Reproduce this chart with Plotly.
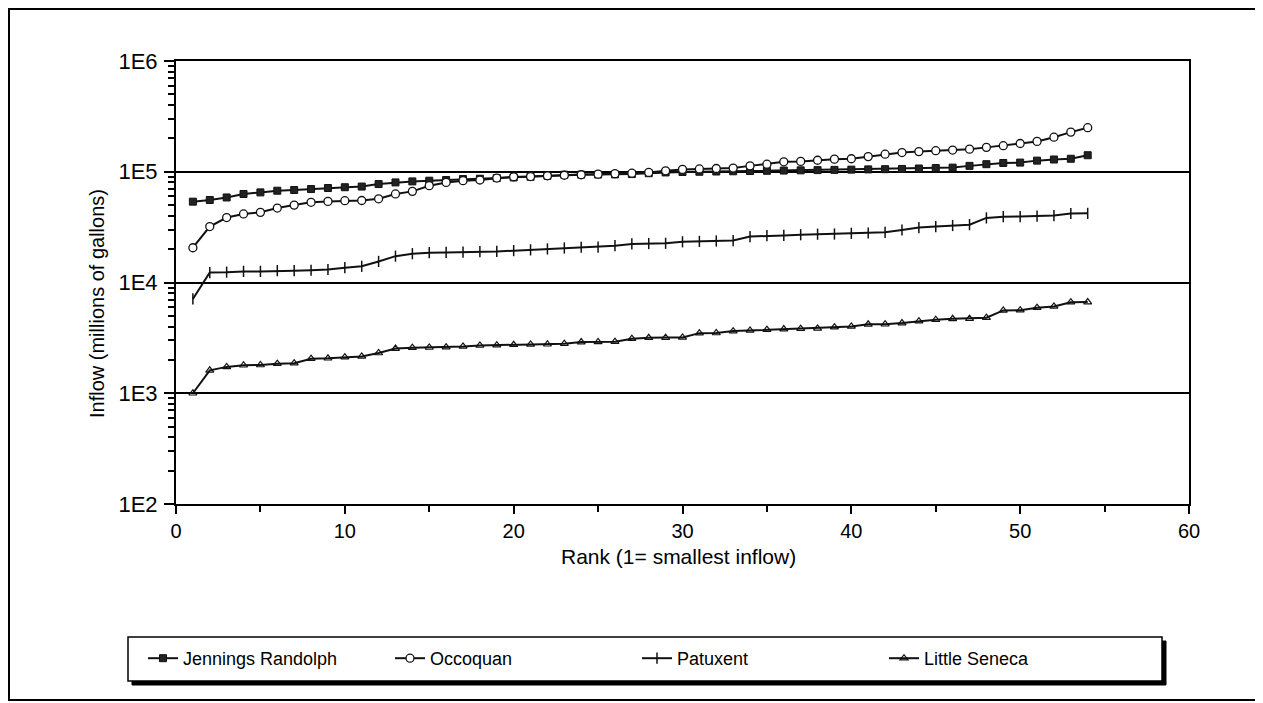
import plotly.graph_objects as go

rank = list(range(1, 55))

jennings_randolph = [53700, 55600, 58600, 63000, 65100, 67400, 68400, 69800, 71300, 72500,
                     73500, 77400, 80100, 81800, 83000, 84200, 85900, 86500, 87700, 88900,
                     90100, 92000, 94000, 94200, 94400, 94600, 95300, 97000, 98600, 99500,
                     100000, 100500, 101000, 101500, 102000, 102500, 103000, 103500, 104000, 104500,
                     105000, 105500, 106000, 107000, 108000, 109000, 113000, 117000, 120000, 121000,
                     126000, 129000, 131000, 141000]

occoquan = [20600, 32000, 38600, 41600, 43000, 47000, 50000, 53000, 54000, 54800,
            55000, 57000, 63000, 66500, 74800, 80100, 83000, 84200, 87700, 90100,
            90500, 92000, 93000, 94000, 95000, 96000, 97000, 98600, 102000, 105000,
            106000, 107000, 108000, 113000, 117000, 123000, 124000, 127000, 130000, 131000,
            137000, 144000, 149000, 152000, 155000, 157000, 160000, 166000, 172000, 180000,
            188000, 205000, 228000, 250000]

patuxent = [7100, 12300, 12400, 12600, 12600, 12800, 12800, 12900, 13100, 13600,
            14000, 15500, 17300, 18200, 18600, 18700, 18800, 19000, 19100, 19400,
            19700, 20100, 20500, 20800, 20900, 21500, 22300, 22500, 22600, 23300,
            23500, 23700, 23900, 26000, 26500, 26600, 27000, 27300, 27400, 27800,
            28000, 28400, 29800, 31300, 32000, 32700, 33300, 38300, 39300, 39400,
            39700, 40200, 42000, 42100]

little_seneca = [1000, 1610, 1730, 1790, 1800, 1850, 1870, 2050, 2070, 2120,
                 2150, 2310, 2530, 2580, 2590, 2610, 2650, 2700, 2720, 2740,
                 2760, 2770, 2800, 2900, 2910, 2920, 3110, 3170, 3180, 3190,
                 3490, 3500, 3640, 3690, 3750, 3800, 3830, 3850, 3950, 4010,
                 4190, 4200, 4300, 4480, 4610, 4700, 4720, 4810, 5600, 5620,
                 5920, 6080, 6640, 6660]

y_major = [1e2, 1e3, 1e4, 1e5, 1e6]
y_major_text = ["1E2", "1E3", "1E4", "1E5", "1E6"]
y_minor = [m * 10 ** e for e in range(2, 6) for m in range(2, 10)]

FONT = "Liberation Sans, Arial, sans-serif"

fig = go.Figure()
fig.add_trace(go.Scatter(x=rank, y=jennings_randolph, name="Jennings Randolph", mode="lines+markers",
                         line=dict(color="#111", width=2),
                         marker=dict(symbol="square", size=7, color="#222", line=dict(color="#111", width=1))))
fig.add_trace(go.Scatter(x=rank, y=occoquan, name="Occoquan", mode="lines+markers",
                         line=dict(color="#111", width=2),
                         marker=dict(symbol="circle", size=8, color="white", line=dict(color="#111", width=1.3))))
fig.add_trace(go.Scatter(x=rank, y=patuxent, name="Patuxent", mode="lines+markers",
                         line=dict(color="#111", width=2),
                         marker=dict(symbol="line-ns-open", size=8, color="#111", line=dict(color="#111", width=1.5))))
fig.add_trace(go.Scatter(x=rank, y=little_seneca, name="Little Seneca", mode="lines+markers",
                         line=dict(color="#111", width=2),
                         marker=dict(symbol="triangle-up-open", size=7, color="#111", line=dict(color="#111", width=1.2))))

# page body has an 8px margin: figure is placed at (8, 8)
OFF = 8
W, H = 1263 - OFF, 703 - OFF
PL, PR, PT, PB = 176, 1189, 61, 504   # plot area in page pixels
L, R, T, B = PL - OFF, W - (PR - OFF), PT - OFF, H - (PB - OFF)
pw, ph = PR - PL, PB - PT

def px(x):
    return (x - PL) / pw

def py(y):
    return (PB - y) / ph

fig.update_layout(
    width=W, height=H,
    margin=dict(l=L, r=R, t=T, b=B),
    paper_bgcolor="white", plot_bgcolor="white",
    font=dict(family=FONT, size=20, color="black"),
    showlegend=True,
    legend=dict(orientation="h", x=px(143), xanchor="left", y=py(640), yanchor="top",
                font=dict(size=18, family=FONT, color="black"),
                bgcolor="rgba(0,0,0,0)", borderwidth=0, entrywidth=202, itemwidth=30),
    xaxis=dict(range=[0, 60], tickvals=[0, 10, 20, 30, 40, 50, 60], ticks="outside", ticklen=8,
               tickwidth=1.5, tickcolor="black", showline=True, linecolor="black", linewidth=2,
               mirror=True, showgrid=False, zeroline=False, ticklabelstandoff=0,
               minor=dict(tickvals=[5, 15, 25, 35, 45, 55], ticks="outside", ticklen=6,
                          tickwidth=1.5, tickcolor="black", showgrid=False),
               tickfont=dict(size=20)),
    xaxis2=dict(range=[0, 60], overlaying="x", anchor="y", side="bottom",
                tickvals=[0, 5, 10, 15, 20, 25, 30, 35, 40, 45, 50, 55, 60], ticks="inside", ticklen=6,
                tickwidth=1.5, tickcolor="black", showticklabels=False, showgrid=False,
                showline=False, zeroline=False),
    yaxis=dict(type="log", range=[2, 6], tickvals=y_major, ticktext=y_major_text, ticks="outside",
               ticklen=10, tickwidth=1.5, tickcolor="black", showline=True, linecolor="black",
               linewidth=2, mirror=True, showgrid=True, gridcolor="black", gridwidth=2,
               zeroline=False, ticklabelstandoff=2,
               minor=dict(tickvals=y_minor, ticks="outside", ticklen=6, tickwidth=1.5,
                          tickcolor="black", showgrid=False),
               tickfont=dict(size=22)),
    yaxis2=dict(type="log", range=[2, 6], overlaying="y", anchor="x", side="left",
                tickvals=y_minor, ticks="inside", ticklen=6, tickwidth=1.5, tickcolor="black",
                showticklabels=False, showgrid=False, showline=False, zeroline=False),
)

# axis titles
fig.add_annotation(text="Rank (1= smallest inflow)", xref="paper", yref="paper",
                   x=px(678), y=py(556), xanchor="center", yanchor="middle",
                   showarrow=False, font=dict(size=21, family=FONT))
fig.add_annotation(text="Inflow (millions of gallons)", xref="paper", yref="paper",
                   x=px(97), y=py(304), xanchor="center", yanchor="middle",
                   showarrow=False, textangle=-90, font=dict(size=20, family=FONT))

# outer chart frame
fig.add_shape(type="rect", xref="paper", yref="paper", x0=px(9), x1=px(1260), y0=py(700), y1=py(9),
              line=dict(color="black", width=2), fillcolor="rgba(0,0,0,0)", layer="below")
# legend box with shadow
fig.add_shape(type="rect", xref="paper", yref="paper", x0=px(132), x1=px(1166), y0=py(685), y1=py(641),
              line=dict(color="black", width=1), fillcolor="black", layer="above")
fig.add_shape(type="rect", xref="paper", yref="paper", x0=px(128), x1=px(1162), y0=py(681), y1=py(637),
              line=dict(color="black", width=1.5), fillcolor="white", layer="above")

fig.write_html("out.html")
